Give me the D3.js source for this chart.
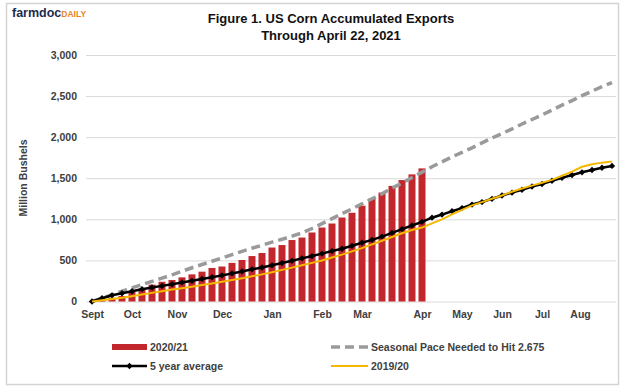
<!DOCTYPE html>
<html>
<head>
<meta charset="utf-8">
<script src="https://cdn.jsdelivr.net/npm/d3@7"></script>
<style>
  body { margin: 0; background: #fff; }
  svg { display: block; font-family: "Liberation Sans", Arial, sans-serif; }
</style>
</head>
<body>
<div id="chart"></div>
<script>
"use strict";

// weekly index from Sept 1 (0) through end of Aug (52)
const weeks = d3.range(0, 53);

// 2020/21 accumulated exports, weeks 1..33 (through April 22)
const exports2021 = [20, 45, 67, 115, 160, 205, 240, 262, 294, 330, 363, 408, 426, 470, 505,
  553, 590, 657, 687, 748, 778, 840, 900, 949, 1022, 1080, 1166, 1253, 1326, 1407, 1478, 1547, 1620];

const seasonalPace = [0, 40, 82, 125, 165, 205, 245, 285, 325, 368, 411, 450, 490, 530, 570, 610,
  648, 685, 722, 757, 795, 835, 888, 948, 1008, 1068, 1128, 1188, 1250, 1310, 1380, 1440, 1510,
  1575, 1640, 1700, 1760, 1815, 1870, 1930, 1990, 2045, 2100, 2160, 2215, 2270, 2330, 2390, 2445,
  2505, 2560, 2615, 2665];

const fiveYearAvg = [0, 40, 75, 100, 125, 150, 170, 190, 210, 232, 252, 275, 295, 318, 342, 366,
  392, 414, 440, 468, 495, 525, 553, 583, 614, 642, 678, 715, 750, 790, 835, 880, 925, 970, 1020,
  1058, 1099, 1137, 1180, 1210, 1250, 1290, 1325, 1360, 1400, 1430, 1470, 1505, 1540, 1572, 1600,
  1628, 1650];

const year1920 = [0, 15, 30, 45, 65, 85, 105, 125, 145, 162, 180, 200, 220, 240, 262, 284, 306,
  330, 355, 385, 412, 440, 470, 500, 535, 570, 610, 650, 695, 740, 785, 830, 870, 900, 950, 1000,
  1060, 1115, 1170, 1210, 1250, 1290, 1335, 1375, 1410, 1445, 1480, 1530, 1580, 1640, 1670, 1690,
  1705];

const monthLabels = ["Sept", "Oct", "Nov", "Dec", "Jan", "Feb", "Mar", "Apr", "May", "Jun", "Jul", "Aug"];
const monthAt = [0, 4, 8.5, 13, 18, 23, 27, 33, 37, 41, 45, 48.8];
const yTicks = [0, 500, 1000, 1500, 2000, 2500, 3000];

const W = 620, H = 391;
const svg = d3.select("#chart").append("svg").attr("width", W).attr("height", H);

// outer frame
svg.append("rect").attr("x", 6.5).attr("y", 3.5).attr("width", 612).attr("height", 381)
  .attr("fill", "#fff").attr("stroke", "#d4d4d4").attr("stroke-width", 1.5);

// logo
const logo = svg.append("text").attr("x", 12).attr("y", 17);
logo.append("tspan").text("farmdoc").attr("font-size", 12.5).attr("font-weight", "bold").attr("fill", "#1d2b4f");
logo.append("tspan").text("DAILY").attr("font-size", 8.5).attr("font-weight", "bold").attr("fill", "#e8822a");

// title
svg.append("text").attr("x", 331).attr("y", 23).attr("text-anchor", "middle")
  .attr("font-size", 13).attr("font-weight", "bold").attr("fill", "#111")
  .text("Figure 1. US Corn Accumulated Exports");
svg.append("text").attr("x", 331).attr("y", 40).attr("text-anchor", "middle")
  .attr("font-size", 13).attr("font-weight", "bold").attr("fill", "#111")
  .text("Through April  22, 2021");

const x = d3.scaleLinear().domain([-0.6, 52.4]).range([86, 616]);
const y = d3.scaleLinear().domain([0, 3000]).range([301.5, 55]);

// gridlines
svg.append("g")
  .attr("transform", "translate(86,0)")
  .call(d3.axisLeft(y).tickValues(yTicks).tickSize(-530).tickFormat(""))
  .call(g => g.select(".domain").remove())
  .call(g => g.selectAll("line").attr("stroke", "#d9d9d9").attr("stroke-width", 1));

// y labels
svg.append("g")
  .attr("transform", "translate(86,0)")
  .call(d3.axisLeft(y).tickValues(yTicks).tickSize(0).tickPadding(9).tickFormat(d3.format(",")))
  .call(g => g.select(".domain").remove())
  .call(g => g.selectAll("text").attr("font-size", 10.5).attr("font-weight", "bold")
    .attr("fill", "#404040").attr("font-family", "Liberation Sans, Arial, sans-serif"));

svg.append("text")
  .attr("transform", "translate(27,178) rotate(-90)")
  .attr("text-anchor", "middle").attr("font-size", 10.5).attr("font-weight", "bold").attr("fill", "#404040")
  .text("Million Bushels");

// x labels
svg.append("g")
  .attr("transform", "translate(0,301.5)")
  .call(d3.axisBottom(x).tickValues(monthAt).tickSize(0).tickPadding(9)
    .tickFormat((d, i) => monthLabels[i]))
  .call(g => g.select(".domain").remove())
  .call(g => g.selectAll("text").attr("font-size", 10.5).attr("font-weight", "bold")
    .attr("fill", "#404040").attr("font-family", "Liberation Sans, Arial, sans-serif"));

// bars 2020/21
const barW = 7;
svg.append("g").selectAll("rect")
  .data(exports2021)
  .join("rect")
  .attr("x", (d, i) => x(i + 1) - barW / 2)
  .attr("y", d => y(d))
  .attr("width", barW)
  .attr("height", d => y(0) - y(d))
  .attr("fill", "#c1272d");

const line = d3.line().x((d, i) => x(weeks[i])).y(d => y(d));

svg.append("path").datum(seasonalPace)
  .attr("d", line).attr("fill", "none")
  .attr("stroke", "#9a9a9a").attr("stroke-width", 3.5).attr("stroke-dasharray", "9,5");

svg.append("path").datum(fiveYearAvg)
  .attr("d", line).attr("fill", "none")
  .attr("stroke", "#000").attr("stroke-width", 2.5);

const diamond = d3.symbol(d3.symbolSquare, 20);
svg.append("g").selectAll("path")
  .data(fiveYearAvg)
  .join("path")
  .attr("d", diamond)
  .attr("transform", (d, i) => `translate(${x(weeks[i])},${y(d)}) rotate(45)`)
  .attr("fill", "#000");

svg.append("path").datum(year1920)
  .attr("d", line).attr("fill", "none")
  .attr("stroke", "#f5b800").attr("stroke-width", 2);

// legend
const lg = svg.append("g").attr("font-size", 10.5).attr("font-weight", "bold").attr("fill", "#404040");
lg.append("rect").attr("x", 112).attr("y", 344).attr("width", 35).attr("height", 6).attr("fill", "#c1272d");
lg.append("text").attr("x", 150).attr("y", 351).text("2020/21");

lg.append("line").attr("x1", 112).attr("x2", 147).attr("y1", 366).attr("y2", 366)
  .attr("stroke", "#000").attr("stroke-width", 2.5);
lg.append("path").attr("d", diamond).attr("transform", "translate(129.5,366) rotate(45)").attr("fill", "#000");
lg.append("text").attr("x", 150).attr("y", 370).text("5 year average");

lg.append("line").attr("x1", 331).attr("x2", 368).attr("y1", 347).attr("y2", 347)
  .attr("stroke", "#9a9a9a").attr("stroke-width", 3.5).attr("stroke-dasharray", "9,5");
lg.append("text").attr("x", 371).attr("y", 351).text("Seasonal Pace Needed to Hit 2.675");

lg.append("line").attr("x1", 331).attr("x2", 368).attr("y1", 366).attr("y2", 366)
  .attr("stroke", "#f5b800").attr("stroke-width", 2);
lg.append("text").attr("x", 371).attr("y", 370).text("2019/20");
</script>
</body>
</html>
